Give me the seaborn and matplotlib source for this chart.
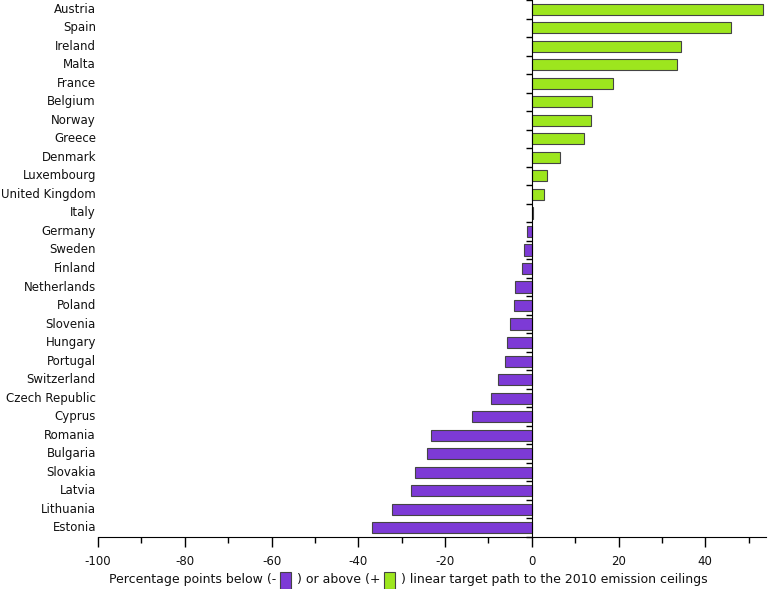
import numpy as np
import pandas as pd
import matplotlib
matplotlib.use("Agg")
import matplotlib.pyplot as plt
import seaborn as sns
from matplotlib.offsetbox import TextArea, DrawingArea, HPacker, AnchoredOffsetbox
from matplotlib.patches import Rectangle
from matplotlib.ticker import MultipleLocator

countries = ["Austria", "Spain", "Ireland", "Malta", "France", "Belgium", "Norway",
             "Greece", "Denmark", "Luxembourg", "United Kingdom", "Italy", "Germany",
             "Sweden", "Finland", "Netherlands", "Poland", "Slovenia", "Hungary",
             "Portugal", "Switzerland", "Czech Republic", "Cyprus", "Romania",
             "Bulgaria", "Slovakia", "Latvia", "Lithuania", "Estonia"]
values = [53.2, 46.0, 34.5, 33.5, 18.8, 13.9, 13.7, 12.0, 6.5, 3.6, 2.9, 0.3, -1.2,
          -1.8, -2.2, -3.9, -4.2, -5.0, -5.8, -6.1, -7.8, -9.4, -13.7, -23.3,
          -24.2, -26.9, -27.9, -32.3, -36.8]
xticks = [-100, -80, -60, -40, -20, 0, 20, 40]
xlabel_parts = ["Percentage points below (- ", " ) or above (+ ",
                " ) linear target path to the 2010 emission ceilings"]

GREEN = "#9de61e"
PURPLE = "#7d3ad6"

df = pd.DataFrame({"country": countries, "value": values})
df["sign"] = np.where(df["value"] >= 0, "above", "below")

sns.set_style("white")
plt.rcParams["font.family"] = ["DejaVu Sans"]
plt.rcParams["axes.unicode_minus"] = False
plt.rcParams["text.color"] = "#111111"
plt.rcParams["xtick.labelcolor"] = "#111111"

fig = plt.figure(figsize=(7.68, 5.89), dpi=100)
ax = fig.add_axes([98 / 768, 1 - 537 / 589, 668 / 768, 537 / 589])

sns.barplot(data=df, x="value", y="country", hue="sign", orient="h",
            palette={"above": GREEN, "below": PURPLE}, dodge=False, saturation=1,
            width=0.6, edgecolor="#444444", linewidth=0.8, legend=False, ax=ax)

ax.set_xlim(-100, 54)
ax.set_ylim(len(countries) - 0.5, -0.5)
ax.xaxis.set_minor_locator(MultipleLocator(10))
ax.set_xticks(xticks)
ax.tick_params(axis="x", which="major", direction="out", length=7, width=1,
               labelsize=8.5, pad=6, color="black", bottom=True)
ax.tick_params(axis="x", which="minor", direction="out", length=4, width=1,
               color="black", bottom=True)

# y axis spine sits at x = 0, labels at left edge
for s in ["top", "right"]:
    ax.spines[s].set_visible(False)
ax.spines["left"].set_position(("data", 0))
ax.spines["left"].set_color("black")
ax.spines["bottom"].set_color("black")
ax.set_yticks(np.arange(len(countries) + 1) - 0.5)
ax.set_yticklabels([])
ax.tick_params(axis="y", which="major", direction="out", length=4, width=1,
               color="black", left=True)
ax.set_xlabel("")
ax.set_ylabel("")
for i, c in enumerate(countries):
    ax.text(-0.003, i, c, transform=ax.get_yaxis_transform(), ha="right",
            va="center", fontsize=8.5)

# legend-like x label
def box(color):
    d = DrawingArea(9, 13, 0, 0)
    d.add_artist(Rectangle((0, 0), 8, 12, facecolor=color, edgecolor="#444444", lw=0.8))
    return d

items = [TextArea(xlabel_parts[0], textprops=dict(fontsize=9)), box(PURPLE),
         TextArea(xlabel_parts[1], textprops=dict(fontsize=9)), box(GREEN),
         TextArea(xlabel_parts[2], textprops=dict(fontsize=9))]
pack = HPacker(children=items, align="center", pad=0, sep=0)
anch = AnchoredOffsetbox(loc="center", child=pack, frameon=False,
                         bbox_to_anchor=(408 / 768, 1 - 580 / 589),
                         bbox_transform=fig.transFigure, borderpad=0)
fig.add_artist(anch)

fig.savefig("out.png", dpi=100)
